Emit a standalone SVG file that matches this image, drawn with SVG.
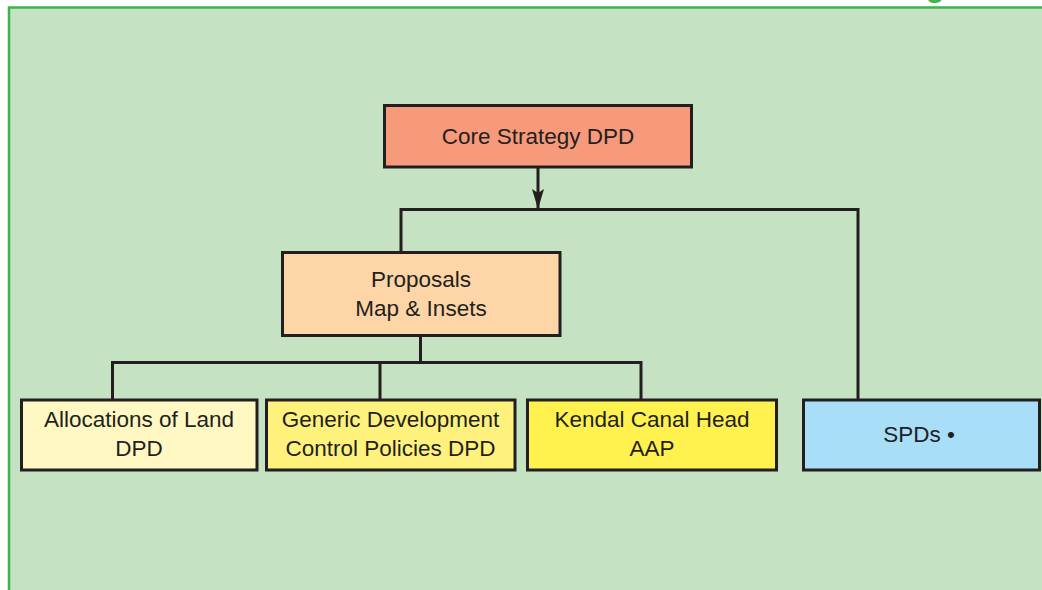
<svg xmlns="http://www.w3.org/2000/svg" width="1042" height="590" viewBox="0 0 1042 590">
  <style>
    .box { stroke: #231f20; stroke-width: 3; }
    .lbl { font-family: "Liberation Sans", Arial, sans-serif; font-size: 22.5px; fill: #231f20; text-anchor: middle; }
    .wire { fill: none; stroke: #231f20; stroke-width: 3; }
    .head { font-family: "Liberation Sans", Arial, sans-serif; font-size: 30px; font-weight: bold; fill: #3ab54a; }
  </style>
  <defs>
    <marker id="arrow" viewBox="0 0 20 12" refX="20" refY="6" markerWidth="20" markerHeight="12" markerUnits="userSpaceOnUse" orient="auto">
      <path d="M0,0 L20,6 L0,12 L4,6 Z" fill="#231f20"/>
    </marker>
  </defs>

  <!-- page background and panel -->
  <rect x="0" y="0" width="1042" height="590" fill="#ffffff"/>
  <text class="head" x="926" y="-3">g</text>
  <rect x="9" y="7.5" width="1050" height="600" fill="#c5e3c2" stroke="#3ab54a" stroke-width="2.5"/>

  <!-- connectors -->
  <g id="connectors">
    <line class="wire" x1="538" y1="167" x2="538" y2="209" marker-end="url(#arrow)"/>
    <polyline class="wire" points="401,252 401,209.5 858,209.5 858,399"/>
    <line class="wire" x1="420.5" y1="336" x2="420.5" y2="362.5"/>
    <polyline class="wire" points="112.5,399 112.5,362.5 641,362.5 641,399"/>
    <line class="wire" x1="380" y1="362.5" x2="380" y2="399"/>
  </g>

  <g id="core-strategy">
    <rect class="box" x="384.5" y="105.5" width="307" height="61.5" fill="#f79a7c"/>
    <text class="lbl" x="538" y="144">Core Strategy DPD</text>
  </g>

  <g id="proposals-map">
    <rect class="box" x="282.5" y="252.5" width="277.5" height="83" fill="#fdd5a6"/>
    <text class="lbl" x="421" y="287">Proposals</text>
    <text class="lbl" x="421" y="316">Map &amp; Insets</text>
  </g>

  <g id="allocations">
    <rect class="box" x="21.5" y="400" width="235.5" height="70" fill="#fff8c2"/>
    <text class="lbl" x="139" y="427">Allocations of Land</text>
    <text class="lbl" x="139" y="456">DPD</text>
  </g>

  <g id="generic-policies">
    <rect class="box" x="266.5" y="400" width="248.5" height="70" fill="#fff27c"/>
    <text class="lbl" x="390.5" y="427">Generic Development</text>
    <text class="lbl" x="390.5" y="456">Control Policies DPD</text>
  </g>

  <g id="kendal-aap">
    <rect class="box" x="527.5" y="400" width="249" height="70" fill="#fff24e"/>
    <text class="lbl" x="652" y="427">Kendal Canal Head</text>
    <text class="lbl" x="652" y="456">AAP</text>
  </g>

  <g id="spds">
    <rect class="box" x="803.5" y="400" width="236" height="70" fill="#a8def8"/>
    <text class="lbl" x="919" y="442">SPDs •</text>
  </g>
</svg>
